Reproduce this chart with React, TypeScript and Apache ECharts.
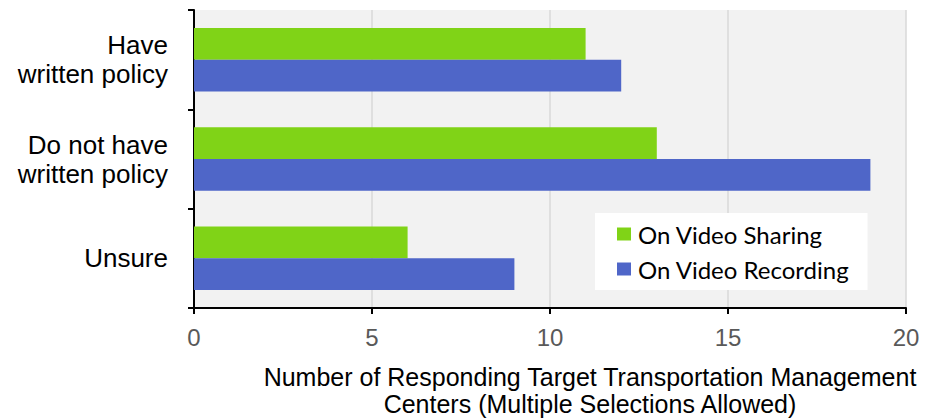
import React, { useEffect, useRef } from "react";
import * as echarts from "echarts";

const categories = ["Have\nwritten policy", "Do not have\nwritten policy", "Unsure"];
const sharing = [11, 13, 6];
const recording = [12, 19, 9];
const seriesNames = ["On Video Sharing", "On Video Recording"];
const xTitle = ["Number of Responding Target Transportation Management", "Centers (Multiple Selections Allowed)"];

export default function App() {
  const ref = useRef<HTMLDivElement>(null);
  useEffect(() => {
    const chart = echarts.init(ref.current!, null, { renderer: "svg" });
    const font = "'Liberation Sans', Arial, sans-serif";
    chart.setOption({
      animation: false,
      backgroundColor: "#ffffff",
      grid: {
        left: 194,
        right: 26,
        top: 10,
        bottom: 110,
        show: true,
        backgroundColor: "#f2f2f2",
        borderWidth: 0,
      },
      legend: {
        orient: "vertical",
        left: 595,
        top: 213,
        backgroundColor: "#ffffff",
        padding: [9, 18, 9, 22],
        itemGap: 11,
        itemWidth: 14,
        itemHeight: 13,
        icon: "rect",
        textStyle: { fontFamily: "Lato, 'Open Sans', sans-serif", fontSize: 24, color: "#000", padding: [0, 0, 0, 2] },
        data: seriesNames,
      },
      xAxis: {
        type: "value",
        min: 0,
        max: 20,
        interval: 5,
        axisLine: { show: true, lineStyle: { color: "#000", width: 2 } },
        axisTick: { show: true, length: 6, lineStyle: { color: "#000", width: 2 } },
        axisLabel: { fontFamily: font, fontSize: 24, color: "#595959", margin: 17 },
        splitLine: { show: true, lineStyle: { color: "#d9d9d9", width: 1.5 } },
      },
      yAxis: {
        type: "category",
        inverse: true,
        data: categories,
        axisLine: { show: true, lineStyle: { color: "#000", width: 2 } },
        axisTick: { show: true, length: 6, alignWithLabel: false, lineStyle: { color: "#000", width: 2 } },
        axisLabel: { fontFamily: font, fontSize: 26, color: "#000", margin: 26, lineHeight: 29, align: "right" },
        splitLine: { show: false },
      },
      series: [
        {
          name: seriesNames[0],
          type: "bar",
          data: sharing,
          itemStyle: { color: "#80d317" },
          barGap: "0%",
          barCategoryGap: "36%",
        },
        {
          name: seriesNames[1],
          type: "bar",
          data: recording,
          itemStyle: { color: "#4f66c8" },
          barGap: "0%",
          barCategoryGap: "36%",
        },
      ],
      graphic: xTitle.map((t, i) => ({
        type: "text",
        x: 590,
        y: 377 + i * 27,
        style: {
          text: t,
          fontFamily: font,
          fontSize: 25,
          fill: "#000",
          align: "center",
          textAlign: "center",
          verticalAlign: "middle",
          textVerticalAlign: "middle",
        },
      })),
    });
    return () => chart.dispose();
  }, []);
  return <div ref={ref} style={{ width: 932, height: 418, position: "absolute", left: 0, top: 0 }} />;
}
